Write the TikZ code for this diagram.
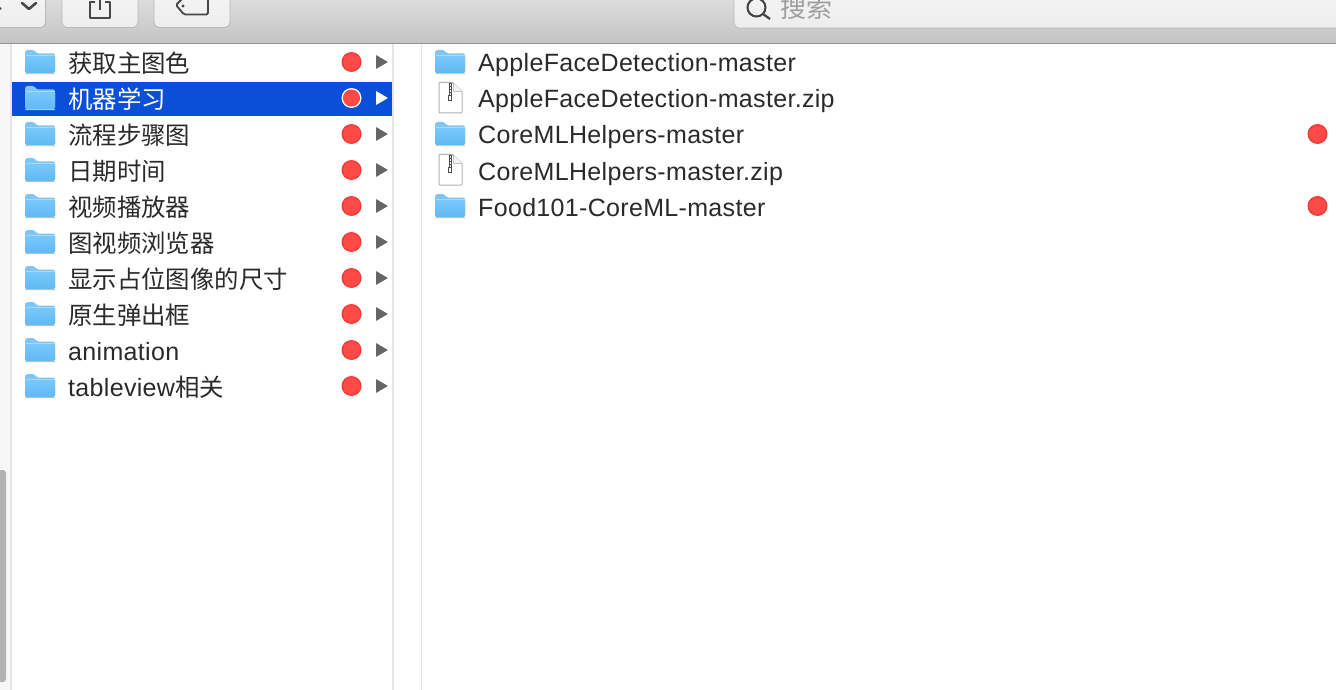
\documentclass[tikz,border=0pt]{standalone}
\usepackage{fontspec}
\setmainfont{Liberation Sans}[LetterSpace=1.3]
\newfontfamily\cjk{Noto Sans CJK SC}
\definecolor{selblue}{HTML}{0A4FD8}
\definecolor{foldA}{HTML}{78C8FA}
\definecolor{foldB}{HTML}{62B8F5}
\definecolor{foldTab}{HTML}{7FC6F2}
\definecolor{dotred}{HTML}{FF4A45}
\definecolor{dotedge}{HTML}{F03A35}
\definecolor{txt}{HTML}{2A2A2A}
\newcommand{\latinsize}{\fontsize{25}{25}\selectfont}
\newcommand{\cjksize}{\fontsize{24.4}{25}\selectfont\cjk}
\tikzset{
  rowlabel/.style={anchor=base west,inner sep=0pt,font=\latinsize,text=txt},
  cjklabel/.style={rowlabel,font=\cjksize},
  btn/.style={rounded corners=5pt,draw=black!28,line width=.8pt,top color=white!96!black,bottom color=white!93!black},
  icon/.style={draw=black!72,line width=1.8pt,line join=round},
}
\newcommand{\folder}[2]{%
  \fill[black!22,rounded corners=1.2pt] (#1,#2+10) rectangle (#1+30,#2+11.2);
  \fill[foldTab,rounded corners=1.5pt] (#1,#2+10) -- (#1,#2-11) -- (#1+1,#2-13) -- (#1+9,#2-13) -- (#1+12,#2-9.5) -- (#1+30,#2-9.5) -- (#1+30,#2+10) -- cycle;
  \shade[top color=foldA,bottom color=foldB,rounded corners=1.5pt] (#1,#2-7.5) rectangle (#1+30,#2+10);
  \fill[white,opacity=.35] (#1+.5,#2-8.2) rectangle (#1+29.5,#2-7.4);
}
\newcommand{\zipfile}[2]{%
  \draw[black!30,fill=white,line width=1pt,line join=round,rounded corners=.8pt] (#1,#2-17) -- (#1+14,#2-17) -- (#1+23,#2-8) -- (#1+23,#2+13.5) -- (#1,#2+13.5) -- cycle;
  \draw[black!25,fill=black!5,line width=.8pt,line join=round] (#1+14,#2-17) -- (#1+14,#2-8) -- (#1+23,#2-8);
  \fill[black!70] (#1+9.5,#2-16.5) rectangle (#1+13,#2-4);
  \foreach \q in {-15,-12,-9,-6}{\fill[white] (#1+10.5,#2+\q) rectangle (#1+12,#2+\q+1.2);}
  \draw[black!70,line width=.9pt] (#1+9.9,#2-4) rectangle (#1+12.6,#2+.5);
}
\newcommand{\reddot}[2]{%
  \fill[dotedge] (#1,#2) circle[radius=10pt];
  \fill[dotred] (#1,#2) circle[radius=8.6pt];
}
\begin{document}
\begin{tikzpicture}[x=1pt,y=-1pt]
\useasboundingbox (0,0) rectangle (1336,690);
\fill[white] (0,0) rectangle (1336,690);
% toolbar
\shade[top color=black!14,bottom color=black!23] (0,0) rectangle (1336,43);
\fill[black!42] (0,42.6) rectangle (1336,44.2);
\draw[btn] (-20,-10) rectangle (45.5,27.5);
\draw[btn] (62,-10) rectangle (138,27.5);
\draw[btn] (154,-10) rectangle (230,27.5);
\draw[btn] (734,-10) rectangle (1346,28);
% toolbar icons
\fill[black!72] (0,8.5) circle[radius=1.6pt];
\draw[icon,line cap=round,line width=2.6pt] (22,3) -- (29,9) -- (36,3);
\draw[icon] (95,2) -- (90,2) -- (90,18) -- (110,18) -- (110,2) -- (105,2);
\draw[icon] (100,10) -- (100,-1);
\draw[icon,rounded corners=1.5pt] (183,-2) -- (176,5) -- (184,14.5) -- (208,14.5) -- (208,-2);
\fill[black!72] (183,6) circle[radius=1.6pt];
\draw[black!75,line width=2pt] (756.5,7.5) circle[radius=9pt];
\draw[black!75,line width=2.2pt] (763,14) -- (770,19);
\node[anchor=west,inner sep=0pt,text=black!38,font=\fontsize{26}{26}\selectfont\cjk] (searchlabel) at (780,8) {搜索};
% side gutters
\fill[black!3] (0,44) rectangle (10,690);
\fill[black!10] (10,44) rectangle (12,690);
\fill[black!30,rounded corners=3pt] (-6,470) rectangle (6,682);
\fill[black!10] (392.4,44) rectangle (394,690);
\fill[black!10] (420.6,44) rectangle (422,690);
% selected row
\fill[selblue] (12,82) rectangle (392,116);
% left column
\foreach \yy/\lab/\nm in {
  63/获取主图色/a, 135/流程步骤图/c, 171/日期时间/d, 207/视频播放器/e,
  243/图视频浏览器/f, 279/显示占位图像的尺寸/g, 315/原生弹出框/h}{
  \folder{25}{\yy}
  \node[cjklabel] (l\nm) at (68,\yy+9.5) {\lab};
  \reddot{351.5}{\yy-1}
  \fill[black!60,rounded corners=.4pt] (376,\yy-8) -- (388,\yy-1) -- (376,\yy+6) -- cycle;
}
\folder{25}{99}
\node[cjklabel,text=white] (lb) at (68,108.5) {机器学习};
\fill[white] (351.5,98) circle[radius=10pt];
\fill[dotred] (351.5,98) circle[radius=8.6pt];
\fill[white,rounded corners=.4pt] (376,91) -- (388,98) -- (376,105) -- cycle;
\folder{25}{351}
\node[rowlabel] (li) at (68,360) {animation};
\reddot{351.5}{350}
\fill[black!60,rounded corners=.4pt] (376,343) -- (388,350) -- (376,357) -- cycle;
\folder{25}{387}
\node[rowlabel] (lj) at (68,396) {tableview{\cjksize 相关}};
\reddot{351.5}{386}
\fill[black!60,rounded corners=.4pt] (376,379) -- (388,386) -- (376,393) -- cycle;
% right column
\folder{435}{63}
\node[rowlabel] (r1) at (478,72) {AppleFaceDetection-master};
\zipfile{439}{99.5}
\node[rowlabel] (r2) at (478,108) {AppleFaceDetection-master.zip};
\folder{435}{135}
\node[rowlabel] (r3) at (478,144) {CoreMLHelpers-master};
\reddot{1317.5}{134}
\zipfile{439}{171.5}
\node[rowlabel] (r4) at (478,180) {CoreMLHelpers-master.zip};
\folder{435}{207}
\node[rowlabel] (r5) at (478,216) {Food101-CoreML-master};
\reddot{1317.5}{206}
\end{tikzpicture}
\end{document}
